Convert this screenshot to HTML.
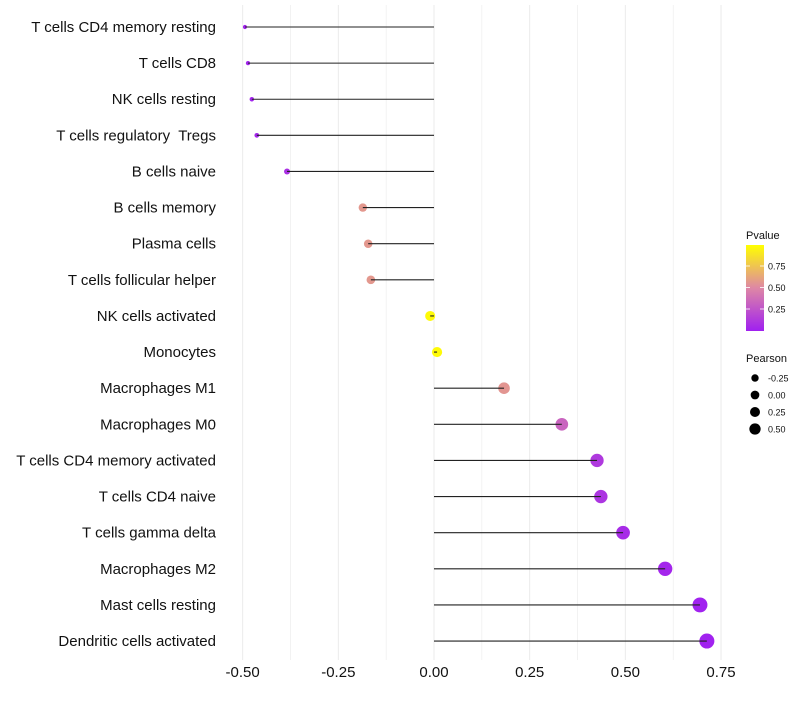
<!DOCTYPE html>
<html><head><meta charset="utf-8"><style>
body{margin:0;background:#fff;font-family:"Liberation Sans",sans-serif}
text{white-space:pre}
</style></head><body>
<svg id="c" width="800" height="700" xmlns="http://www.w3.org/2000/svg" font-family="Liberation Sans, sans-serif"></svg>
<script>
const categories=["T cells CD4 memory resting","T cells CD8","NK cells resting","T cells regulatory  Tregs","B cells naive","B cells memory","Plasma cells","T cells follicular helper","NK cells activated","Monocytes","Macrophages M1","Macrophages M0","T cells CD4 memory activated","T cells CD4 naive","T cells gamma delta","Macrophages M2","Mast cells resting","Dendritic cells activated"];
const pearson=[-0.494,-0.486,-0.476,-0.463,-0.384,-0.186,-0.172,-0.165,-0.010,0.008,0.183,0.334,0.426,0.436,0.494,0.604,0.695,0.713];
const pvalue=[0.02,0.02,0.02,0.03,0.08,0.57,0.57,0.57,0.98,0.98,0.56,0.33,0.12,0.1,0.06,0.03,0.01,0.01];
const xTicks=[-0.5,-0.25,0,0.25,0.5,0.75];
const xTickLabels=["-0.50","-0.25","0.00","0.25","0.50","0.75"];
const legP=[0.25,0.5,0.75];
const legS=[-0.25,0,0.25,0.5];
const legSLabels=["-0.25","0.00","0.25","0.50"];
const svg=document.getElementById('c');const NS="http://www.w3.org/2000/svg";
function mk(t,a,p){const e=document.createElementNS(NS,t);for(const k in a)e.setAttribute(k,a[k]);(p||svg).appendChild(e);return e;}
const X=v=>434+v*382.7;
const Y=i=>27+i*36.12;
const R=v=>Math.sqrt(Math.max(1,4+(v+0.5)*43.3));
function lerp(a,b,t){return a.map((x,i)=>Math.round(x+(b[i]-x)*t));}
function col(p){const c0=[160,32,240],c1=[222,135,165],c2=[255,255,0];const c=p<0.5?lerp(c0,c1,p/0.5):lerp(c1,c2,(p-0.5)/0.5);return `rgb(${c})`;}
for(let v=-0.5;v<=0.751;v+=0.125){const g=mk('line',{x1:X(v),x2:X(v),y1:5,y2:660,stroke:'#ebebeb','stroke-width':Math.abs(v*4-Math.round(v*4))<1e-6?1:0.6});

}
xTicks.forEach((v,i)=>{const t=mk('text',{x:X(v),y:677,'text-anchor':'middle','font-size':15,fill:'#111'});t.textContent=xTickLabels[i];

});
categories.forEach((c,i)=>{const t=mk('text',{x:216,y:Y(i)+5,'text-anchor':'end','font-size':15,fill:'#111'});t.textContent=c;


const pt=mk('circle',{cx:X(pearson[i]),cy:Y(i),r:R(pearson[i]),fill:col(pvalue[i])});


const s=mk('line',{x1:X(0),x2:X(pearson[i]),y1:Y(i),y2:Y(i),stroke:'#222','stroke-width':1.1});

});
const defs=mk('defs',{});const lg=mk('linearGradient',{id:'g',x1:0,y1:1,x2:0,y2:0},defs);
[[0,'#a020f0'],[0.5,'#de87a5'],[1,'#ffff00']].forEach(s=>mk('stop',{offset:s[0],'stop-color':s[1]},lg));
let t=mk('text',{x:746,y:239,'font-size':11,fill:'#111'});t.textContent='Pvalue';

const bar=mk('rect',{x:746,y:245,width:18,height:86,fill:'url(#g)'});

legP.forEach(p=>{const y=330.5-p*86;mk('line',{x1:746,x2:750,y1:y,y2:y,stroke:'#fff','stroke-width':0.8});mk('line',{x1:760,x2:764,y1:y,y2:y,stroke:'#fff','stroke-width':0.8});
const l=mk('text',{x:768,y:y+3.5,'font-size':9,fill:'#111'});l.textContent=p.toFixed(2);
});
t=mk('text',{x:746,y:362,'font-size':11,fill:'#111'});t.textContent='Pearson';

legS.forEach((v,i)=>{const y=378+i*17;const c=mk('circle',{cx:755,cy:y,r:3.7+i*0.65,fill:'#000'});

const l=mk('text',{x:768,y:y+3.5,'font-size':9,fill:'#111'});l.textContent=legSLabels[i];
});
</script>
</body></html>
